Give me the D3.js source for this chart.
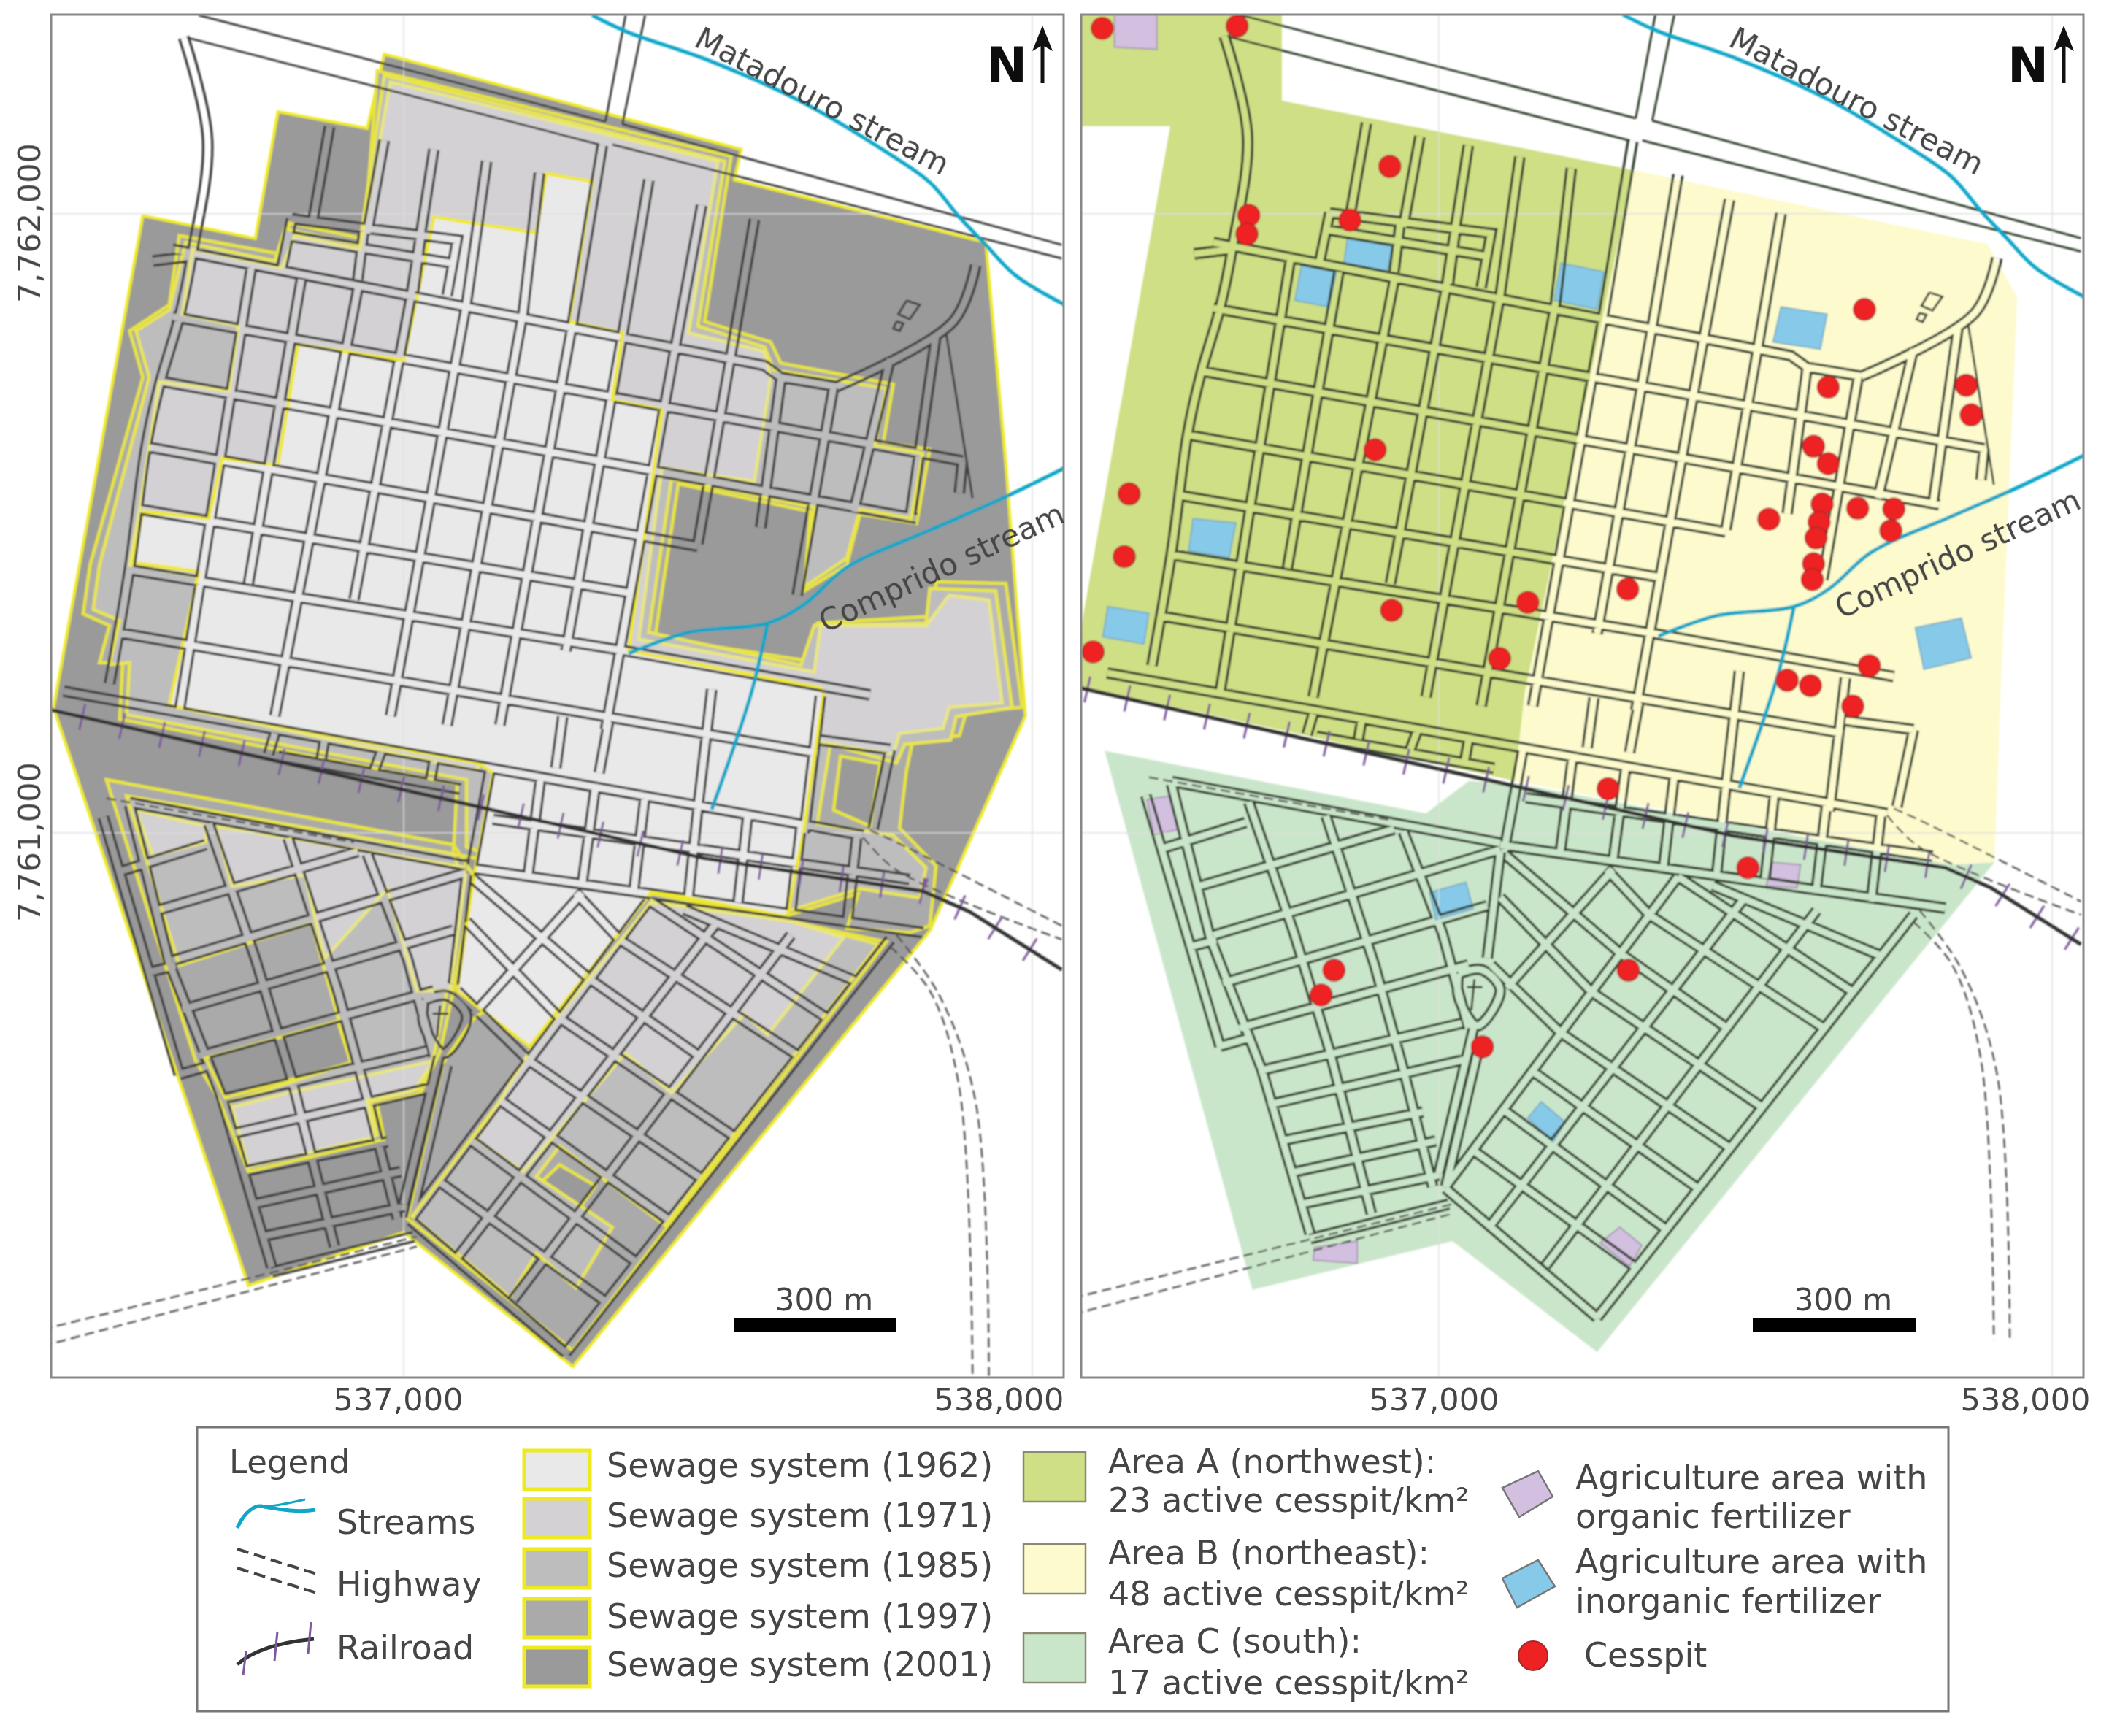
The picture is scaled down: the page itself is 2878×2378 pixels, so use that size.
<!DOCTYPE html>
<html>
<head>
<meta charset="utf-8">
<script src="https://d3js.org/d3.v7.min.js"></script>
<style>
  body { margin: 0; background: #fff; }
  text { font-family: "DejaVu Sans", sans-serif; fill: #444; filter: url(#softText); }
</style>
</head>
<body>
<div id="chart"></div>
<script>
// all map positions are metres east / north of this origin
var originE = 537000;
var originN = 7761000;
var eastTicks = [537000, 538000];
var northTicks = [7762000, 7761000];

var streetsNorth = [
  [[-368,943],[574,755],[600,736],[689,721]],
  [[-368,834],[889,601]],
  [[-389,730],[816,508]],
  [[-410,624],[468,463]],
  [[-420,523],[358,388]],
  [[-436,425],[353,294],[742,223]],
  [[-457,324],[658,129]],
  [[-541,229],[731,-4]],
  [[-200,124],[90,71]],
  [[142,22],[805,-75]],
  [[100,-56],[826,-161]],
  [[-178,992],[85,958],[69,868]],
  [[-189,965],[79,920]],
  [[-178,992],[-194,913]],
  [[-63,976],[-73,894]],
  [[27,961],[16,875]],
  [[-399,924],[-342,931]],
  [[-242,916],[-357,196]],
  [[-163,894],[-247,403]],
  [[-118,1141],[-144,992]],
  [[-73,879],[-205,189]],
  [[-31,1119],[-58,969]],
  [[48,1104],[11,864],[-79,377]],
  [[132,1085],[100,856],[-21,189]],
  [[216,1066],[190,841],[69,174]],
  [[316,1111],[269,826],[153,174]],
  [[390,1055],[348,804],[258,294]],
  [[474,1014],[432,785],[321,167]],
  [[558,991],[521,774],[468,467]],
  [[600,733],[568,493]],
  [[684,721],[626,384]],
  [[774,766],[716,519]],
  [[847,804],[805,504]],
  [[889,601],[884,549]],
  [[137,101],[106,-68]],
  [[218,90],[198,-68]],
  [[305,75],[284,-82]],
  [[384,60],[366,-94]],
  [[468,41],[453,-105]],
  [[547,26],[532,-112]],
  [[632,11],[616,-127]],
  [[721,-4],[705,-150]],
  [[-205,161],[-215,127]],
  [[-126,150],[-131,120]],
  [[-36,131],[-47,101]],
  [[48,116],[42,82]],
  [[663,221],[637,0]],
  [[490,232],[468,41]],
  [[326,180],[311,97]],
  [[253,188],[242,105]],
  [[774,135],[747,7]],
  [[663,150],[774,135]]
];

var streetsSouthWest = [
  [[-478,26],[-357,-390]],
  [[-436,45],[-373,-210],[-289,-428],[-210,-701]],
  [[-310,15],[-236,-203],[-178,-398],[-110,-668]],
  [[-184,-8],[-105,-255],[-58,-428],[-10,-623]],
  [[-58,-34],[6,-203],[48,-360]],
  [[-436,49],[100,-53]],
  [[-457,-64],[-315,-19]],
  [[-389,-124],[-73,-30]],
  [[-368,-206],[100,-64]],
  [[-405,-225],[-363,-214]],
  [[-352,-285],[79,-157]],
  [[-326,-360],[48,-255]],
  [[-294,-431],[37,-352]],
  [[-357,-390],[-305,-375]],
  [[-278,-487],[42,-412]],
  [[-257,-547],[-26,-499]],
  [[-242,-600],[-5,-547]],
  [[-226,-652],[0,-604]],
  [[-210,-709],[16,-652]]
];

var streetsSouthEast = [
  [[11,-623],[390,-109]],
  [[85,-686],[500,-142]],
  [[174,-754],[616,-165]],
  [[258,-840],[774,-172]],
  [[11,-626],[258,-840]],
  [[55,-562],[321,-757]],
  [[105,-495],[371,-694]],
  [[152,-431],[423,-626]],
  [[85,-255],[199,-368],[475,-559]],
  [[100,-143],[249,-300],[527,-491]],
  [[111,-75],[296,-236],[470,-360]],
  [[274,-97],[343,-172],[628,-360]],
  [[390,-109],[675,-300]],
  [[447,-124],[721,-240]],
  [[111,-293],[284,-97]],
  [[100,-68],[79,-244]],
  [[58,-353],[53,-375],[0,-600]],
  [[69,-375],[11,-623]]
];

// the few streets that really bend
var streetsCurved = [
  [[-350,1285],[-312,1119],[-336,939],[-357,834],[-389,722],[-410,624],[-436,429],[-468,241]],
  [[910,917],[874,826],[689,721]],
  [[32,-270],[69,-263],[100,-296],[63,-356],[32,-308],[32,-270]]
];

var roadEdges = [
  [[-326,1321],[321,1149]],
  [[348,1145],[1047,950]],
  [[-342,1284],[311,1112]],
  [[332,1112],[1047,928]],
  [[353,1321],[321,1149]],
  [[384,1321],[348,1145]],
  [[863,808],[905,541]],
  [[800,860],[821,853],[805,830],[787,838],[800,860]],
  [[784,826],[795,823],[789,811],[779,815],[784,826]],
  [[58,-279],[53,-330]],
  [[46,-292],[71,-292]]
];

var highways = [
  [[-642,-819],[21,-652]],
  [[-642,-847],[21,-668]],
  [[-473,56],[-79,-15]],
  [[774,-184],[837,-255],[884,-412],[905,-877]],
  [[784,-165],[852,-262],[910,-435],[931,-877]],
  [[742,4],[784,-15],[1047,-150]],
  [[731,-7],[784,-60],[1047,-172]]
];

var railway = [[-640,217],[90,49],[479,-41],[826,-94],[900,-127],[1047,-221]];

var streams = [
  [[300,1321],[353,1295],[490,1246],[637,1179],[774,1096],[837,1051],[884,995],[926,950],[973,901],[1052,853]],
  [[358,290],[453,324],[579,339],[637,369],[705,429],[837,489],[947,538],[1052,590]],
  [[579,339],[553,226],[490,38]]
];

var sewage2001 = [
  [[-415,997],[-236,960],[-200,1165],[-58,1138],[-31,1258],[537,1104],[526,1055],[926,954],[958,594],[989,189],[837,-158],[269,-862],[0,-645],[-247,-731],[-557,202]]
];

var sewage1997 = [
  [[-357,965],[-194,935],[-182,985],[-63,960],[-42,1231],[521,1093],[479,826],[584,793],[600,759],[779,725],[763,631],[837,620],[816,500],[726,515],[705,433],[637,391],[647,519],[437,564],[400,316],[637,279],[658,339],[842,350],[847,406],[958,403],[984,203],[895,195],[884,157],[810,150],[800,101],[789,8],[847,-53],[837,-150],[805,-161],[705,-154],[723,-98],[605,-135],[395,-90],[116,-41],[79,-34],[85,79],[-452,184],[-447,275],[-484,275],[-468,335],[-510,354],[-499,433],[-415,736],[-436,811],[-373,853]],
  [[695,124],[758,112],[742,11],[684,37]],
  [[-473,86],[79,-19],[111,-68],[79,-255],[58,-353],[27,-420],[-42,-439],[-31,-495],[-247,-547],[-294,-431],[-331,-368]],
  [[-315,-364],[-105,-304],[-84,-371],[-284,-428]],
  [[768,-176],[269,-836],[6,-623],[63,-371],[111,-300],[395,-98],[616,-143]],
  [[248,-536],[305,-570],[279,-607],[221,-562]]
];

var sewage1985 = [
  [[-347,954],[-205,924],[-189,976],[-70,950],[-31,1224],[511,1085],[468,819],[574,785],[589,748],[768,718],[750,626],[826,613],[807,508],[726,523],[705,444],[637,397],[653,526],[426,571],[390,324],[632,271],[653,335],[831,339],[837,395],[942,391],[968,203],[879,188],[870,150],[797,143],[784,113],[679,143],[658,15],[779,-4],[831,-56],[821,-105],[726,-90],[605,-128],[395,-83],[132,-34],[100,-23],[100,86],[-441,191],[-436,275],[-468,272],[-452,343],[-494,361],[-484,433],[-405,736],[-426,811],[-373,845]],
  [[-441,60],[79,-34],[90,-64],[69,-255],[48,-360],[27,-413],[-52,-435],[-42,-488],[-242,-536],[-278,-435],[-84,-371],[-147,-146],[-357,-214]],
  [[395,-109],[621,-143],[755,-180],[416,-634],[248,-506],[211,-555],[332,-637],[274,-735],[211,-679],[169,-750],[14,-619]]
];

var sewage1971 = [
  [[-336,943],[-194,913],[-173,965],[-70,943],[-21,1213],[500,1085],[453,808],[574,778],[584,736],[558,568],[411,590],[374,313],[653,260],[663,335],[831,335],[868,384],[931,376],[952,210],[868,203],[858,169],[789,161],[779,127],[668,146],[584,150],[121,112],[116,101],[-373,206],[-326,414],[-436,433],[-420,523],[-389,729],[-278,714],[-263,819],[-352,838]],
  [[-426,37],[-315,11],[-315,-15],[-399,-37]],
  [[-299,11],[100,-56],[74,-255],[21,-255],[-26,-90],[-126,-203],[-157,-68],[-273,-86]],
  [[-273,-443],[-247,-540],[-47,-491],[-58,-431],[16,-416],[48,-368],[-184,-420]],
  [[395,-112],[616,-143],[700,-169],[579,-326],[542,-292],[426,-420],[353,-356],[190,-547],[116,-495],[205,-345]]
];

var sewage1962 = [
  [[227,1065],[300,1052],[263,826],[348,808],[332,699],[411,684],[358,294],[663,234],[668,225],[637,8],[610,-135],[395,-94],[200,-345],[85,-255],[111,-75],[142,97],[121,112],[-373,206],[-326,422],[-431,437],[-415,519],[-310,508],[-289,605],[-200,594],[-168,789],[0,763],[48,995],[211,969]]
];

var sewageYears = ["1962", "1971", "1985", "1997", "2001"];
var sewageFills = ["#e9e9e9", "#d3d1d3", "#bdbdbd", "#aaaaaa", "#9a9a9a"];
var sewageEdges = ["#f0e92a", "#e9e67f", "#e9e54d", "#e8e43a", "#eeea1f"];

var areaA = [[-600,1330],[-256,1330],[-256,1178],[317,1063],[140,196],[124,50],[-600,210],[-438,1136],[-600,1136]];
var areaB = [[317,1063],[895,940],[943,851],[916,196],[906,-85],[836,-89],[124,50],[140,196]];
var areaC = [[-545,100],[-21,-4],[49,50],[124,46],[836,-89],[906,-85],[258,-897],[22,-713],[-304,-794]];

var organicFarms = [
  [[-529,1330],[-460,1330],[-460,1263],[-529,1267]],
  [[-476,19],[-438,25],[-426,-31],[-465,-39]],
  [[542,-85],[590,-89],[584,-127],[534,-124]],
  [[295,-690],[331,-720],[311,-755],[263,-716]],
  [[-203,-724],[-133,-713],[-133,-750],[-205,-745]]
];

var inorganicFarms = [
  [[-149,951],[-74,940],[-85,894],[-155,909]],
  [[-224,905],[-167,894],[-179,836],[-235,847]],
  [[199,909],[269,894],[258,832],[188,847]],
  [[558,836],[633,824],[622,766],[545,778]],
  [[-401,485],[-331,478],[-342,420],[-408,432]],
  [[-540,339],[-473,328],[-481,277],[-548,289]],
  [[777,304],[852,320],[868,254],[791,235]],
  [[-15,-135],[44,-118],[56,-162],[-5,-180]],
  [[167,-482],[206,-516],[186,-549],[145,-509]]
];

var cesspits = [
  [-549,1298],[-329,1302],[-80,1069],[-310,988],[-313,957],[-145,980],[-104,599],[-505,526],[-513,422],
  [-77,333],[145,346],[99,253],[-564,264],[308,368],[694,832],[635,703],[860,706],[868,657],[611,605],
  [635,576],[625,509],[683,502],[742,501],[737,465],[538,484],[620,479],[615,453],[611,410],[609,384],
  [702,241],[568,217],[606,208],[675,174],[276,37],[504,-94],[-171,-264],[-192,-305],[309,-264],[71,-391]
];

var width = 2878, height = 2378;

var svg = d3.select("#chart").append("svg")
  .attr("width", width)
  .attr("height", height)
  .style("display", "block");

var defs = svg.append("defs");
defs.append("filter").attr("id", "soft")
  .append("feGaussianBlur").attr("stdDeviation", 0.8);
defs.append("filter").attr("id", "softText")
  .append("feGaussianBlur").attr("stdDeviation", 0.7);

var panels = [
  {
    id: "left", x0: 70, x1: 1457,
    xScale: d3.scaleLinear().domain(eastTicks).range([553, 1414]),
    yScale: d3.scaleLinear().domain(northTicks).range([293, 1141]),
    streetColor: "#3f3f3f",
    eastShift: {537000: -8, 538000: -46},
    mataX: 1126, compX: 1290, compY: 778, mataY: 139, barX: 1005, northX: 1351
  },
  {
    id: "right", x0: 1481, x1: 2854,
    xScale: d3.scaleLinear().domain(eastTicks).range([1971, 2811]),
    yScale: d3.scaleLinear().domain(northTicks).range([285, 1111]),
    streetColor: "#344231",
    eastShift: {537000: -7, 538000: -37},
    mataX: 2543, compX: 2682, compY: 759, mataY: 139, barX: 2401, northX: 2750
  }
];
var panelTop = 20, panelBottom = 1887;
var gridY = d3.scaleLinear().domain(northTicks).range([293, 1141]);

panels.forEach(function(p) {
  var line = d3.line()
    .x(function(d) { return p.xScale(originE + d[0]); })
    .y(function(d) { return p.yScale(originN + d[1]); });
  var smooth = d3.line()
    .x(line.x())
    .y(line.y())
    .curve(d3.curveCatmullRom);
  var rings = function(list) {
    return list.map(function(r) { return line(r) + "Z"; }).join("");
  };

  defs.append("clipPath").attr("id", "clip-" + p.id)
    .append("rect")
    .attr("x", p.x0).attr("y", panelTop)
    .attr("width", p.x1 - p.x0).attr("height", panelBottom - panelTop);

  var straight = streetsNorth.concat(streetsSouthWest, streetsSouthEast);

  // casing of the street network, cut out with a mask so blocks keep their own fill
  var mask = defs.append("mask").attr("id", "streets-" + p.id)
    .attr("maskUnits", "userSpaceOnUse")
    .attr("x", 0).attr("y", 0).attr("width", width).attr("height", height);
  [["#fff", 16], ["#000", 9]].forEach(function(s) {
    mask.append("path")
      .attr("d", straight.map(line).join("") + streetsCurved.map(smooth).join(""))
      .attr("fill", "none").attr("stroke", s[0]).attr("stroke-width", s[1]);
  });

  svg.append("rect")
    .attr("x", p.x0).attr("y", panelTop)
    .attr("width", p.x1 - p.x0).attr("height", panelBottom - panelTop)
    .attr("fill", "#fff");

  var g = svg.append("g")
    .attr("clip-path", "url(#clip-" + p.id + ")")
    .append("g")
    .attr("filter", "url(#soft)");

  if (p.id == "left") {
    var layers = [sewage2001, sewage1997, sewage1985, sewage1971, sewage1962];
    layers.forEach(function(rs, i) {
      var k = 4 - i;
      g.append("path")
        .attr("d", rings(rs))
        .attr("fill", sewageFills[k])
        .attr("fill-rule", "evenodd")
        .attr("stroke", sewageEdges[k])
        .attr("stroke-width", k == 4 ? 4 : 4.5)
        .attr("stroke-linejoin", "miter");
    });
  } else {
    [[areaA, "#cfdf85"], [areaB, "#fdfacd"], [areaC, "#cae6ca"]].forEach(function(a) {
      g.append("path").attr("d", line(a[0]) + "Z").attr("fill", a[1]);
    });
    g.selectAll("path.organic").data(organicFarms).enter().append("path")
      .attr("class", "organic")
      .attr("d", function(d) { return line(d) + "Z"; })
      .attr("fill", "#d3c0e0").attr("stroke", "#a99bb3").attr("stroke-width", 2);
    g.selectAll("path.inorganic").data(inorganicFarms).enter().append("path")
      .attr("class", "inorganic")
      .attr("d", function(d) { return line(d) + "Z"; })
      .attr("fill", "#86c9e8").attr("stroke", "#7fb0c4").attr("stroke-width", 2);
  }

  // gridlines
  g.selectAll("line.gx").data(eastTicks).enter().append("line")
    .attr("class", "gx")
    .attr("x1", function(d) { return p.xScale(d); })
    .attr("x2", function(d) { return p.xScale(d); })
    .attr("y1", panelTop).attr("y2", panelBottom)
    .attr("stroke", "#ddd").attr("stroke-opacity", 0.7).attr("stroke-width", 2);
  g.selectAll("line.gy").data(northTicks).enter().append("line")
    .attr("class", "gy")
    .attr("x1", p.x0).attr("x2", p.x1)
    .attr("y1", function(d) { return gridY(d); })
    .attr("y2", function(d) { return gridY(d); })
    .attr("stroke", "#ddd").attr("stroke-opacity", 0.7).attr("stroke-width", 2);

  // streets
  g.append("rect")
    .attr("x", 0).attr("y", 0).attr("width", width).attr("height", height)
    .attr("fill", p.streetColor)
    .attr("mask", "url(#streets-" + p.id + ")");

  g.selectAll("path.edge").data(roadEdges).enter().append("path")
    .attr("class", "edge").attr("d", line).attr("fill", "none")
    .attr("stroke", p.streetColor).attr("stroke-width", 3);

  g.selectAll("path.hwy").data(highways).enter().append("path")
    .attr("class", "hwy").attr("d", smooth).attr("fill", "none")
    .attr("stroke", "#555").attr("stroke-width", 2.5).attr("stroke-dasharray", "13 7");

  // railroad: the wide dashed stroke makes the ties
  g.append("path").attr("d", line(railway)).attr("fill", "none")
    .attr("stroke", "#7d5a9b").attr("stroke-width", 36).attr("stroke-dasharray", "3 53");
  g.append("path").attr("d", line(railway)).attr("fill", "none")
    .attr("stroke", "#333").attr("stroke-width", 5);

  g.selectAll("path.stream").data(streams).enter().append("path")
    .attr("class", "stream").attr("d", smooth).attr("fill", "none")
    .attr("stroke", "#0fa6c8").attr("stroke-width", 5);

  if (p.id == "right") {
    g.selectAll("circle").data(cesspits).enter().append("circle")
      .attr("cx", function(d) { return p.xScale(originE + d[0]); })
      .attr("cy", function(d) { return p.yScale(originN + d[1]); })
      .attr("r", 15)
      .attr("fill", "#ee2222").attr("stroke", "#a02a2a").attr("stroke-width", 1.5);
  }

  svg.append("rect")
    .attr("x", p.x0).attr("y", panelTop)
    .attr("width", p.x1 - p.x0).attr("height", panelBottom - panelTop)
    .attr("fill", "none").attr("stroke", "#888").attr("stroke-width", 3);

  // stream names
  svg.append("text")
    .attr("transform", "translate(" + p.mataX + "," + p.mataY + ") rotate(27.6)")
    .attr("text-anchor", "middle").attr("dy", 14).attr("font-size", 42)
    .text("Matadouro stream");
  svg.append("text")
    .attr("transform", "translate(" + p.compX + "," + p.compY + ") rotate(-24.8)")
    .attr("text-anchor", "middle").attr("dy", 14).attr("font-size", 42)
    .text("Comprido stream");

  // north arrow
  svg.append("text")
    .attr("x", p.northX).attr("y", 113)
    .attr("font-size", 67).attr("font-weight", "bold").style("fill", "#111")
    .text("N");
  var ax = p.northX + 77;
  svg.append("line")
    .attr("x1", ax).attr("x2", ax).attr("y1", 60).attr("y2", 114)
    .attr("stroke", "#111").attr("stroke-width", 5);
  svg.append("path")
    .attr("d", "M" + ax + ",35L" + (ax + 14) + ",70L" + ax + ",62L" + (ax - 14) + ",70Z")
    .attr("fill", "#111");

  // scale bar
  svg.append("rect")
    .attr("x", p.barX).attr("y", 1806).attr("width", 223).attr("height", 19)
    .attr("fill", "#000");
  svg.append("text")
    .attr("x", p.barX + 124).attr("y", 1795)
    .attr("text-anchor", "middle").attr("font-size", 42)
    .text("300 m");

  // easting labels
  var xAxis = d3.axisBottom(p.xScale)
    .tickValues(eastTicks)
    .tickFormat(d3.format(","))
    .tickSize(0);
  var xg = svg.append("g").attr("transform", "translate(0,1932)").call(xAxis);
  xg.select(".domain").remove();
  xg.selectAll("text")
    .attr("y", 0).attr("dy", 0)
    .attr("dx", function(d) { return p.eastShift[d]; })
    .attr("font-size", 43)
    .style("font-family", "DejaVu Sans")
    .style("fill", "#444");
});

// northing labels, left panel only
var yAxis = d3.axisLeft(gridY)
  .tickValues(northTicks)
  .tickFormat(d3.format(","))
  .tickSize(0);
var yg = svg.append("g").attr("transform", "translate(55,0)").call(yAxis);
yg.select(".domain").remove();
yg.selectAll("text")
  .attr("x", 0).attr("dy", 0)
  .attr("text-anchor", "middle")
  .attr("transform", "translate(0,12) rotate(-90)")
  .attr("font-size", 43)
  .style("font-family", "DejaVu Sans")
  .style("fill", "#444");

// legend
var legend = svg.append("g");
legend.append("rect")
  .attr("x", 270).attr("y", 1955).attr("width", 2399).attr("height", 389)
  .attr("fill", "#fff").attr("stroke", "#777").attr("stroke-width", 3);

var legendText = function(x, y, t) {
  return legend.append("text").attr("x", x).attr("y", y).attr("font-size", 46).text(t);
};

legendText(314, 2018, "Legend").attr("font-size", 45);

legend.append("path")
  .attr("d", "M325,2093C335,2070 350,2060 362,2064C385,2068 410,2072 432,2068")
  .attr("fill", "none").attr("stroke", "#0fa6c8").attr("stroke-width", 5);
legend.append("path")
  .attr("d", "M362,2064C385,2062 400,2058 418,2054")
  .attr("fill", "none").attr("stroke", "#0fa6c8").attr("stroke-width", 3);
legendText(461, 2101, "Streams");

legend.selectAll("path.lh").data([0, 26]).enter().append("path")
  .attr("class", "lh")
  .attr("d", function(d) { return "M325," + (2122 + d) + "L437," + (2157 + d); })
  .attr("stroke", "#444").attr("stroke-width", 4).attr("stroke-dasharray", "16 8");
legendText(461, 2186, "Highway");

legend.append("path")
  .attr("d", "M325,2280C345,2262 380,2250 430,2245")
  .attr("fill", "none").attr("stroke", "#333").attr("stroke-width", 5);
legend.selectAll("line.lt").data([333, 376, 422]).enter().append("line")
  .attr("class", "lt")
  .attr("x1", function(d) { return d; }).attr("x2", function(d) { return d + 4; })
  .attr("y1", function(d, i) { return [2295, 2275, 2265][i]; })
  .attr("y2", function(d, i) { return [2262, 2235, 2222][i]; })
  .attr("stroke", "#7d5a9b").attr("stroke-width", 3);
legendText(461, 2273, "Railroad");

var sewageRowY = [1987, 2053, 2122, 2190, 2257];
var sewageBase = [2023, 2092, 2160, 2230, 2296];
sewageYears.forEach(function(yr, i) {
  legend.append("rect")
    .attr("x", 718).attr("y", sewageRowY[i]).attr("width", 90).attr("height", 53)
    .attr("fill", sewageFills[i]).attr("stroke", sewageEdges[4]).attr("stroke-width", 5);
  legendText(831, sewageBase[i], "Sewage system (" + yr + ")");
});

var areaNames = ["Area A (northwest):", "Area B (northeast):", "Area C (south):"];
var areaRates = ["23 active cesspit/km²", "48 active cesspit/km²", "17 active cesspit/km²"];
var areaFills = ["#cfdf85", "#fdfacd", "#cae6ca"];
var areaRowY = [1989, 2115, 2237];
var areaBase = [[2018, 2071], [2143, 2199], [2264, 2321]];
areaNames.forEach(function(nm, i) {
  legend.append("rect")
    .attr("x", 1402).attr("y", areaRowY[i]).attr("width", 85).attr("height", 68)
    .attr("fill", areaFills[i]).attr("stroke", "#8a8a70").attr("stroke-width", 2.5);
  legendText(1518, areaBase[i][0], nm);
  legendText(1518, areaBase[i][1], areaRates[i]);
});

legend.append("path")
  .attr("d", "M2107,2015L2127,2050L2081,2078L2058,2038Z")
  .attr("fill", "#d3c0e0").attr("stroke", "#777").attr("stroke-width", 2.5);
legendText(2158, 2040, "Agriculture area with");
legendText(2158, 2093, "organic fertilizer");
legend.append("path")
  .attr("d", "M2107,2137L2130,2173L2078,2202L2058,2162Z")
  .attr("fill", "#86c9e8").attr("stroke", "#777").attr("stroke-width", 2.5);
legendText(2158, 2155, "Agriculture area with");
legendText(2158, 2209, "inorganic fertilizer");
legend.append("circle")
  .attr("cx", 2100).attr("cy", 2268).attr("r", 20)
  .attr("fill", "#ee2222").attr("stroke", "#a02a2a").attr("stroke-width", 2);
legendText(2170, 2283, "Cesspit");
</script>
</body>
</html>
